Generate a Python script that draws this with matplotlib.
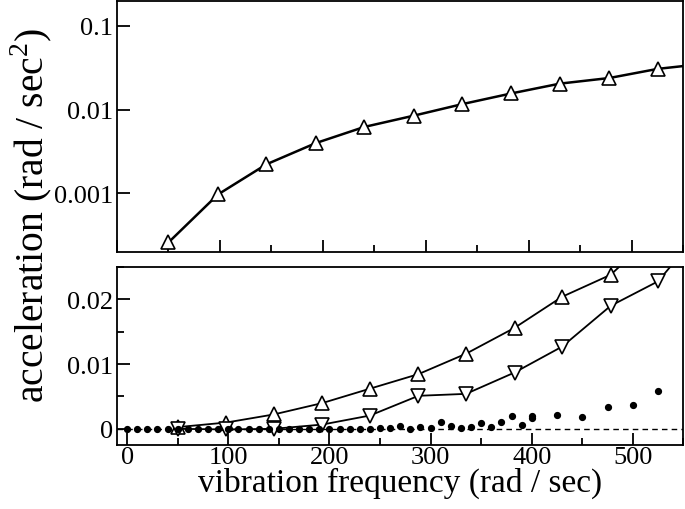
import matplotlib
matplotlib.use('Agg')
import matplotlib.pyplot as plt
from matplotlib.ticker import FixedLocator, MultipleLocator, NullLocator, FixedFormatter
import numpy as np

plt.rcParams['font.family'] = ['Liberation Serif', 'DejaVu Serif']
plt.rcParams['mathtext.fontset'] = 'custom'
plt.rcParams['mathtext.rm'] = 'Liberation Serif'

# frequencies of the driven runs (rad / sec)
freq = [50, 98, 145, 193, 240, 288, 335, 383, 430, 478, 525, 573]
# acceleration, upward triangles (shown in both panels)
acc_up = [0.00026, 0.00097, 0.00222, 0.00398, 0.0062, 0.00845, 0.0116,
          0.0156, 0.0204, 0.0238, 0.0306, 0.0355]
# acceleration, downward triangles
acc_down = [0.0, -0.0001, 0.0, 0.00066, 0.00205, 0.0051, 0.0054, 0.0087,
            0.0127, 0.019, 0.0228, 0.0318]
# scattered dots
dot_freq = [0, 10, 20, 30, 40, 50, 60, 70, 80, 90, 100, 110, 120, 130, 140,
            150, 160, 170, 180, 190, 200, 210, 220, 230, 240, 250, 260, 270,
            280, 290, 300, 310, 320, 330, 340, 350, 360, 370, 380, 390, 400,
            400, 425, 450, 475, 500, 525]
dot_acc = [0, 0, 0, 0, 0, 0, 0, 0, 0, 0, 0, 0, 0, 0, 0,
           0, 0, 0, 0, 0, 0, 0, 0, 0, 0, 0.0001, 0.0001, 0.0004,
           0.0, 0.0003, 0.0002, 0.001, 0.0005, 0.0001, 0.00035, 0.0009,
           0.0003, 0.0011, 0.002, 0.0006, 0.002,
           0.0017, 0.0022, 0.0018, 0.0033, 0.0037, 0.0058]

fig = plt.figure(figsize=(6.85, 5.1), dpi=100)
ax1 = fig.add_axes([0.1708, 0.504, 0.827, 0.493])
ax2 = fig.add_axes([0.1708, 0.1255, 0.827, 0.349])

tri = dict(markersize=10, markerfacecolor='white', markeredgecolor='black',
           markeredgewidth=1.2, color='black')

# top panel, log scale
ax1.plot(freq, acc_up, marker='^', lw=1.8, **tri)
ax1.set_yscale('log')
ax1.set_ylim(2e-4, 0.2)
ax1.set_xlim(0, 550)
ax1.yaxis.set_major_locator(FixedLocator([0.001, 0.01, 0.1]))
ax1.yaxis.set_major_formatter(FixedFormatter(['0.001', '0.01', '0.1']))
ax1.yaxis.set_minor_locator(NullLocator())
ax1.xaxis.set_major_locator(MultipleLocator(100))
ax1.xaxis.set_minor_locator(MultipleLocator(50))
ax1.tick_params(labelbottom=False)

# bottom panel, linear
ax2.axhline(0, color='black', lw=1.0, ls=(0, (4, 3)))
ax2.plot(freq, acc_up, marker='^', lw=1.3, **tri)
ax2.plot(freq, acc_down, marker='v', lw=1.3, **tri)
ax2.plot(dot_freq, dot_acc, 'o', color='black', markersize=4.2, ls='none')
ax2.set_xlim(-10, 550)
ax2.set_ylim(-0.0025, 0.025)
ax2.yaxis.set_major_locator(FixedLocator([0, 0.01, 0.02]))
ax2.yaxis.set_major_formatter(FixedFormatter(['0', '0.01', '0.02']))
ax2.yaxis.set_minor_locator(MultipleLocator(0.005))
ax2.xaxis.set_major_locator(MultipleLocator(100))
ax2.xaxis.set_minor_locator(MultipleLocator(50))

for ax in (ax1, ax2):
    for sp in ax.spines.values():
        sp.set_linewidth(1.3)
    ax.tick_params(which='major', direction='in', length=9, width=1.3,
                   labelsize=19, pad=3)
    ax.tick_params(which='minor', direction='in', length=5, width=1.3)
    ax.tick_params(axis='x', pad=1)

ax2.set_xlabel('vibration frequency (rad / sec)', fontsize=24, labelpad=-1)
fig.text(0.045, 0.578, 'acceleration (rad / sec$^2$)', rotation=90,
         fontsize=28.5, ha='center', va='center')

fig.savefig('out.png', dpi=100)
